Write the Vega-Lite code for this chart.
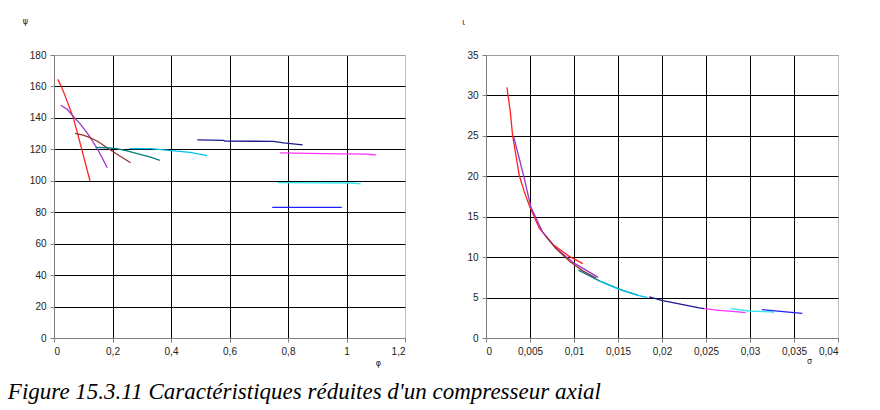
{
  "$schema": "https://vega.github.io/schema/vega-lite/v6.json",
  "padding": {"left": 7, "top": 16, "right": 10, "bottom": 5},
  "background": "white",
  "bounds": "flush",
  "spacing": 81,
  "config": {
    "locale": {"number": {"decimal": ",", "thousands": " ", "grouping": [3], "currency": ["", " €"]}},
    "view": {"stroke": "#c0c0c0", "strokeWidth": 1},
    "axis": {
      "labelFont": "Liberation Sans", "labelFontSize": 10, "labelColor": "#222",
      "domainColor": "#808080", "tickColor": "#808080", "tickSize": 4, "labelPadding": 4,
      "gridColor": "black", "gridOpacity": 1, "gridWidth": 1,
      "titleFont": "DejaVu Sans", "titleFontSize": 8, "titleFontWeight": "normal", "titleColor": "#222"
    },
    "line": {"strokeWidth": 1.3}
  },
  "title": {
    "text": "Figure 15.3.11 Caractéristiques réduites d'un compresseur axial",
    "orient": "bottom", "anchor": "start", "frame": "bounds",
    "font": "Liberation Serif", "fontStyle": "italic", "fontWeight": "normal",
    "fontSize": 23, "color": "black", "offset": 13, "dx": -14
  },
  "datasets": {
    "left": [
      {"series": "s1", "phi": 0.013, "psi": 164.5}, {"series": "s1", "phi": 0.025, "psi": 160}, {"series": "s1", "phi": 0.038, "psi": 154},
      {"series": "s1", "phi": 0.052, "psi": 147}, {"series": "s1", "phi": 0.066, "psi": 140}, {"series": "s1", "phi": 0.08, "psi": 130.5},
      {"series": "s1", "phi": 0.095, "psi": 120}, {"series": "s1", "phi": 0.109, "psi": 110}, {"series": "s1", "phi": 0.123, "psi": 100},
      {"series": "s2", "phi": 0.023, "psi": 148}, {"series": "s2", "phi": 0.045, "psi": 145.5}, {"series": "s2", "phi": 0.066, "psi": 141},
      {"series": "s2", "phi": 0.09, "psi": 136}, {"series": "s2", "phi": 0.117, "psi": 129.5}, {"series": "s2", "phi": 0.146, "psi": 121},
      {"series": "s2", "phi": 0.165, "psi": 114.5}, {"series": "s2", "phi": 0.182, "psi": 108.3},
      {"series": "s3", "phi": 0.072, "psi": 130.2}, {"series": "s3", "phi": 0.1, "psi": 129}, {"series": "s3", "phi": 0.123, "psi": 127.4},
      {"series": "s3", "phi": 0.15, "psi": 125}, {"series": "s3", "phi": 0.174, "psi": 122}, {"series": "s3", "phi": 0.214, "psi": 117},
      {"series": "s3", "phi": 0.262, "psi": 111.5},
      {"series": "s4", "phi": 0.142, "psi": 121.3}, {"series": "s4", "phi": 0.18, "psi": 121}, {"series": "s4", "phi": 0.214, "psi": 120.4},
      {"series": "s4", "phi": 0.25, "psi": 119}, {"series": "s4", "phi": 0.294, "psi": 116.8}, {"series": "s4", "phi": 0.33, "psi": 115},
      {"series": "s4", "phi": 0.362, "psi": 113},
      {"series": "s5", "phi": 0.258, "psi": 120.5}, {"series": "s5", "phi": 0.33, "psi": 120.4}, {"series": "s5", "phi": 0.41, "psi": 119},
      {"series": "s5", "phi": 0.465, "psi": 118}, {"series": "s5", "phi": 0.524, "psi": 116},
      {"series": "s6", "phi": 0.49, "psi": 126}, {"series": "s6", "phi": 0.58, "psi": 125.7}, {"series": "s6", "phi": 0.585, "psi": 125.2},
      {"series": "s6", "phi": 0.75, "psi": 125.1}, {"series": "s6", "phi": 0.785, "psi": 124.1}, {"series": "s6", "phi": 0.85, "psi": 122.8},
      {"series": "s7", "phi": 0.773, "psi": 117.8}, {"series": "s7", "phi": 0.92, "psi": 117.3}, {"series": "s7", "phi": 1.07, "psi": 116.9},
      {"series": "s7", "phi": 1.1, "psi": 116.4},
      {"series": "s8", "phi": 0.765, "psi": 98.8}, {"series": "s8", "phi": 1.02, "psi": 98.6}, {"series": "s8", "phi": 1.049, "psi": 98.0},
      {"series": "s9", "phi": 0.746, "psi": 83.1}, {"series": "s9", "phi": 0.984, "psi": 83.1}
    ],
    "right": [
      {"series": "s1", "sigma": 0.00238, "iota": 31.0}, {"series": "s1", "sigma": 0.00276, "iota": 28.0}, {"series": "s1", "sigma": 0.00302, "iota": 25.1},
      {"series": "s1", "sigma": 0.0034, "iota": 22.6}, {"series": "s1", "sigma": 0.00378, "iota": 20.1}, {"series": "s1", "sigma": 0.00435, "iota": 18.1},
      {"series": "s1", "sigma": 0.00492, "iota": 16.4}, {"series": "s1", "sigma": 0.00605, "iota": 13.6}, {"series": "s1", "sigma": 0.00757, "iota": 11.6},
      {"series": "s1", "sigma": 0.00946, "iota": 10.1}, {"series": "s1", "sigma": 0.011, "iota": 9.2},
      {"series": "s2", "sigma": 0.00314, "iota": 24.9}, {"series": "s2", "sigma": 0.00378, "iota": 22.2}, {"series": "s2", "sigma": 0.00435, "iota": 19.7},
      {"series": "s2", "sigma": 0.0051, "iota": 16.2}, {"series": "s2", "sigma": 0.00643, "iota": 13.1}, {"series": "s2", "sigma": 0.00795, "iota": 11.1},
      {"series": "s2", "sigma": 0.00983, "iota": 9.4}, {"series": "s2", "sigma": 0.01136, "iota": 8.4}, {"series": "s2", "sigma": 0.01275, "iota": 7.5},
      {"series": "s3", "sigma": 0.0068, "iota": 12.6}, {"series": "s3", "sigma": 0.008, "iota": 11.0}, {"series": "s3", "sigma": 0.0095, "iota": 9.5},
      {"series": "s3", "sigma": 0.011, "iota": 8.3}, {"series": "s3", "sigma": 0.0125, "iota": 7.4},
      {"series": "s4", "sigma": 0.0105, "iota": 8.4}, {"series": "s4", "sigma": 0.013, "iota": 7.0}, {"series": "s4", "sigma": 0.0155, "iota": 5.9},
      {"series": "s4", "sigma": 0.0172, "iota": 5.3},
      {"series": "s5", "sigma": 0.0128, "iota": 7.1}, {"series": "s5", "sigma": 0.01494, "iota": 6.1}, {"series": "s5", "sigma": 0.0174, "iota": 5.25},
      {"series": "s5", "sigma": 0.01835, "iota": 5.0},
      {"series": "s6", "sigma": 0.01855, "iota": 5.08}, {"series": "s6", "sigma": 0.02006, "iota": 4.62}, {"series": "s6", "sigma": 0.02195, "iota": 4.21},
      {"series": "s6", "sigma": 0.02422, "iota": 3.72}, {"series": "s6", "sigma": 0.0248, "iota": 3.63},
      {"series": "s7", "sigma": 0.0248, "iota": 3.63}, {"series": "s7", "sigma": 0.0265, "iota": 3.42}, {"series": "s7", "sigma": 0.028, "iota": 3.3},
      {"series": "s7", "sigma": 0.0295, "iota": 3.13},
      {"series": "s8", "sigma": 0.0278, "iota": 3.63}, {"series": "s8", "sigma": 0.0299, "iota": 3.34}, {"series": "s8", "sigma": 0.03255, "iota": 3.22},
      {"series": "s8", "sigma": 0.0327, "iota": 3.05},
      {"series": "s9", "sigma": 0.03134, "iota": 3.51}, {"series": "s9", "sigma": 0.03407, "iota": 3.22}, {"series": "s9", "sigma": 0.03595, "iota": 3.05}
    ]
  },
  "hconcat": [
    {
      "width": 351, "height": 283,
      "data": {"name": "left"},
      "mark": {"type": "line", "strokeWidth": 1.3},
      "encoding": {
        "x": {"field": "phi", "type": "quantitative",
          "scale": {"domain": [0, 1.2], "nice": false, "zero": false},
          "axis": {"values": [0, 0.2, 0.4, 0.6, 0.8, 1, 1.2], "format": "~g", "title": "φ",
            "titleX": 324, "titleY": 21, "titleBaseline": "top", "titleAlign": "center",
            "gridColor": {"condition": {"test": "datum.value >= 1.2", "value": "#c0c0c0"}, "value": "black"}}},
        "y": {"field": "psi", "type": "quantitative",
          "scale": {"domain": [0, 180], "nice": false},
          "axis": {"values": [0, 20, 40, 60, 80, 100, 120, 140, 160, 180], "title": "ψ",
            "titleAngle": 0, "titleX": -29, "titleY": -34, "titleBaseline": "middle", "titleAlign": "center",
            "gridColor": {"condition": {"test": "datum.value >= 180", "value": "#a0a0a0"}, "value": "black"}}},
        "color": {"field": "series", "type": "nominal", "legend": null,
          "scale": {"domain": ["s1", "s2", "s3", "s4", "s5", "s6", "s7", "s8", "s9"],
            "range": ["#FF2020", "#9933CC", "#993333", "#008080", "#00C0F0", "#1A1A8C", "#FF33FF", "#33E6F0", "#2020FF"]}}
      }
    },
    {
      "width": 352, "height": 283,
      "data": {"name": "right"},
      "mark": {"type": "line", "strokeWidth": 1.3},
      "encoding": {
        "x": {"field": "sigma", "type": "quantitative",
          "scale": {"domain": [0, 0.04], "nice": false, "zero": false},
          "axis": {"values": [0, 0.005, 0.01, 0.015, 0.02, 0.025, 0.03, 0.035, 0.04], "format": "~g", "title": "σ",
            "titleX": 323, "titleY": 19, "titleBaseline": "top", "titleAlign": "center",
            "gridColor": {"condition": {"test": "datum.value >= 0.04", "value": "#c0c0c0"}, "value": "black"}}},
        "y": {"field": "iota", "type": "quantitative",
          "scale": {"domain": [0, 35], "nice": false},
          "axis": {"values": [0, 5, 10, 15, 20, 25, 30, 35], "title": "ι",
            "titleAngle": 0, "titleX": -23, "titleY": -33, "titleBaseline": "middle", "titleAlign": "center",
            "gridColor": {"condition": {"test": "datum.value >= 35", "value": "#a0a0a0"}, "value": "black"}}},
        "color": {"field": "series", "type": "nominal", "legend": null,
          "scale": {"domain": ["s1", "s2", "s3", "s4", "s5", "s6", "s7", "s8", "s9"],
            "range": ["#FF2020", "#9933CC", "#993333", "#008080", "#00C0F0", "#1A1A8C", "#FF33FF", "#33E6F0", "#6F6FF0"]}}
      }
    }
  ]
}
